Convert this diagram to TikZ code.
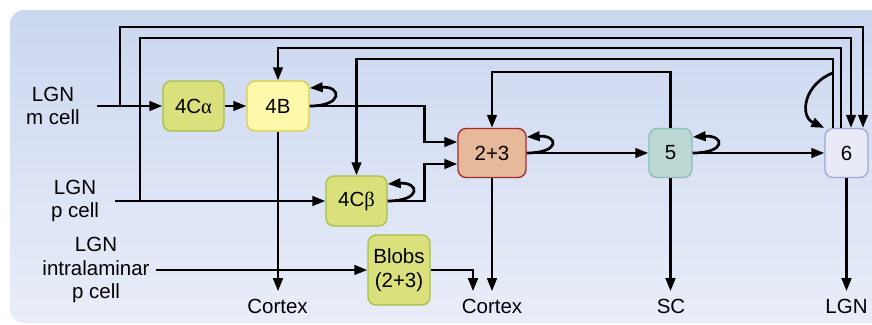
\documentclass[tikz,border=0pt]{standalone}
\usepackage{fontspec}
\setmainfont{Liberation Sans}
\newfontfamily\grk{Liberation Serif}
\usepackage{tikz}
\usetikzlibrary{arrows.meta,calc,positioning}
\definecolor{bgtop}{HTML}{CBD7F0}
\definecolor{bgbot}{HTML}{E9EDF8}
\definecolor{cafill}{HTML}{DAE07B}
\definecolor{caline}{HTML}{A7BE4A}
\definecolor{bfill}{HTML}{FEF9AA}
\definecolor{bline}{HTML}{DCCE47}
\definecolor{rfill}{HTML}{E6B99B}
\definecolor{rline}{HTML}{A22B2B}
\definecolor{gfill}{HTML}{BCD8D5}
\definecolor{gline}{HTML}{8CBDB7}
\definecolor{wfill}{HTML}{E8EAF7}
\definecolor{wline}{HTML}{9FA8D3}

\begin{document}
\begin{tikzpicture}[x=1pt,y=-1pt,
    font=\fontsize{20.5}{23.5}\selectfont,
    arr/.style={line width=2.7pt,-{Triangle[length=13pt,width=9.5pt]}},
    box/.style={draw,line width=1.3pt,rounded corners=8pt,minimum height=49pt,align=center,inner sep=2pt},
    lbl/.style={align=center,inner sep=0pt,outer ysep=8pt}]
                \useasboundingbox (0,0) rectangle (872,324);
                \shade[top color=bgtop,bottom color=bgbot,rounded corners=14pt] (10,10) rectangle (900,323);
                % layers
                \node[box,fill=cafill,draw=caline,minimum width=61pt,minimum height=50pt] (n4ca) at (193.5,106) {4C{\grk α}};
                \node[box,fill=bfill,draw=bline,minimum width=62pt,minimum height=50pt] (n4b) at (278,106) {4B};
                \node[box,fill=cafill,draw=caline,minimum width=61pt,minimum height=50pt] (n4cb) at (356.5,201) {4C{\grk β}};
                \node[box,fill=cafill,draw=caline,minimum width=62pt,minimum height=70pt] (nblob) at (399,270) {Blobs\\(2+3)};
                \node[box,fill=rfill,draw=rline,minimum width=68pt] (n23) at (492,153) {2+3};
                \node[box,fill=gfill,draw=gline,minimum width=43pt] (n5) at (670.5,153) {5};
                \node[box,fill=wfill,draw=wline,minimum width=43pt] (n6) at (846.5,153) {6};
                % inputs and outputs
                \node[lbl] (mcell) at (53,106) {LGN\\m cell};
                \node[lbl] (pcell) at (75,201) {LGN\\p cell};
                \node[lbl] (ipcell) at (96,270) {LGN\\intralaminar\\p cell};
                \node[lbl] (ctx1) at (277.5,306.5) {Cortex};
                \node[lbl] (ctx2) at (492,306.5) {Cortex};
                \node[lbl] (sc) at (671,306.5) {SC};
                \node[lbl] (lgn) at (846.5,306.5) {LGN};
                \coordinate (jm) at (120,106);
                \coordinate (jp) at (140,201);
                % feed forward
                \draw[arr] ([xshift=17pt]mcell.east) -- (n4ca.west);
                \draw[arr] (n4ca) -- (n4b);
                \draw[arr] ([xshift=16pt]pcell.east) -- (n4cb.west);
                \draw[arr] ([xshift=6pt]ipcell.east) -- (nblob.west);
                \draw[arr] (n4b.east) -- ++(115,0) |- ([yshift=11pt]n23.west);
                \draw[arr] (n4cb.east) -- ++(37,0) |- ([yshift=-11pt]n23.west);
                \draw[arr] (n23) -- (n5);
                \draw[arr] (n5) -- (n6);
                % outputs
                \draw[arr] (n4b.south) -- (n4b.south |- ctx1.north);
                \draw[arr] (n23.south) -- (n23.south |- ctx2.north);
                \draw[arr] (nblob.east) -| ([xshift=-19pt]ctx2.north);
                \draw[arr] (n5.south) -- (n5.south |- sc.north);
                \draw[arr] (n6.south) -- (n6.south |- lgn.north);
                % feedback
                \draw[arr] (jm) -- ++(0,-79) -| ([xshift=16.5pt]n6.north);
                \draw[arr] (jp) -- ++(0,-163) -| ([xshift=4.5pt]n6.north);
                \draw[arr] ([xshift=-5.5pt]n6.north) -- ++(0,-80) -| (n4b.north);
                \draw[arr] ([xshift=-13.5pt]n6.north) -- ++(0,-69) -| (n4cb.north);
                \draw[arr] (n5.north) -- ++(0,-56) -| (n23.north);
                \coordinate (k6) at ([xshift=-13.5pt,yshift=55pt]n6.north);
                \draw[arr] (k6) .. controls (804,84) and (799,116) .. (n6.north west);
                % self loops
                \draw[arr] (n4b.east) .. controls +(34,0) and +(32,-2) .. ([yshift=18pt]n4b.east);
                \draw[arr] (n4cb.east) .. controls +(34,0) and +(32,-2) .. ([yshift=17pt]n4cb.east);
                \draw[arr] (n23.east) .. controls +(34,0) and +(32,-2) .. ([yshift=16pt]n23.east);
                \draw[arr] (n5.east) .. controls +(34,0) and +(32,-2) .. ([yshift=16pt]n5.east);
\end{tikzpicture}
\end{document}
